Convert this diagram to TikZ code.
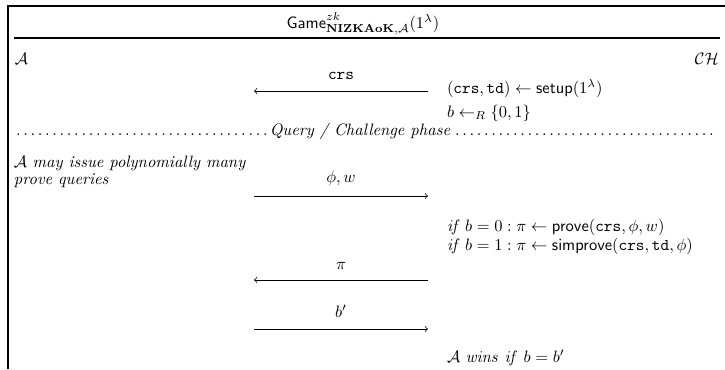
\documentclass[tikz,border=0pt]{standalone}
\usepackage{amsmath,amssymb}
\begin{document}
\begin{tikzpicture}[x=0.606pt,y=-0.606pt,
  txt/.style={anchor=base west,inner sep=0pt,outer sep=0pt},
  lbl/.style={anchor=base,inner sep=0pt,outer sep=0pt},
  frame/.style={line width=0.7pt},
  msg/.style={line width=0.45pt}]
\useasboundingbox (0,0) rectangle (725,369);
% frame
\coordinate (tl) at (8,6);
\coordinate (tr) at (725,6);
\coordinate (bl) at (8,369);
\draw[frame] (bl) -- (tl) -- (tr);
\coordinate (sl) at (14,38);
\coordinate (sr) at (720,38);
\draw[frame] (sl) -- (sr);
\node[lbl] (title) at (363,28) {$\mathsf{Game}^{zk}_{\mathbf{NIZKAoK},\mathcal{A}}(1^{\lambda})$};
% parties
\node[txt] (A) at (15,64) {$\mathcal{A}$};
\node[anchor=base east,inner sep=0pt] (CH) at (719,64) {$\mathcal{CH}$};
% setup
\node[lbl] (crs) at (341,79) {$\mathtt{crs}$};
\coordinate (c1r) at (428,91);
\coordinate (c1l) at (254,91);
\draw[msg,->] (c1r) -- (c1l);
\node[txt] (setup) at (447,93) {$(\mathtt{crs},\mathtt{td})\leftarrow\mathsf{setup}(1^{\lambda})$};
\node[txt] (bR) at (447,117) {$b\leftarrow_R\{0,1\}$};
% phase
\node[txt] (phase) at (14,135) {\makebox[427pt][l]{\makebox[155pt]{\dotfill}\textit{Query / Challenge phase}\dotfill}};
% query
\node[txt] (q1) at (14,167) {$\mathcal{A}$ \textit{may issue polynomially many}};
\node[txt] (q2) at (14,184) {\textit{prove queries}};
\node[lbl] (phiw) at (341,182) {$\phi,w$};
\coordinate (c2l) at (254,196);
\coordinate (c2r) at (428,196);
\draw[msg,->] (c2l) -- (c2r);
\node[txt] (if0) at (447,231) {$\mathit{if}\;b=0:\pi\leftarrow\mathsf{prove}(\mathtt{crs},\phi,w)$};
\node[txt] (if1) at (447,250) {$\mathit{if}\;b=1:\pi\leftarrow\mathsf{simprove}(\mathtt{crs},\mathtt{td},\phi)$};
\node[lbl] (pi) at (341,269) {$\pi$};
\coordinate (c3r) at (428,280);
\coordinate (c3l) at (254,280);
\draw[msg,->] (c3r) -- (c3l);
\node[lbl] (bp) at (341,317) {$b'$};
\coordinate (c4l) at (254,329);
\coordinate (c4r) at (428,329);
\draw[msg,->] (c4l) -- (c4r);
\node[txt] (win) at (447,362) {$\mathcal{A}\ \mathit{wins}\ \mathit{if}\ b=b'$};
\end{tikzpicture}
\end{document}
